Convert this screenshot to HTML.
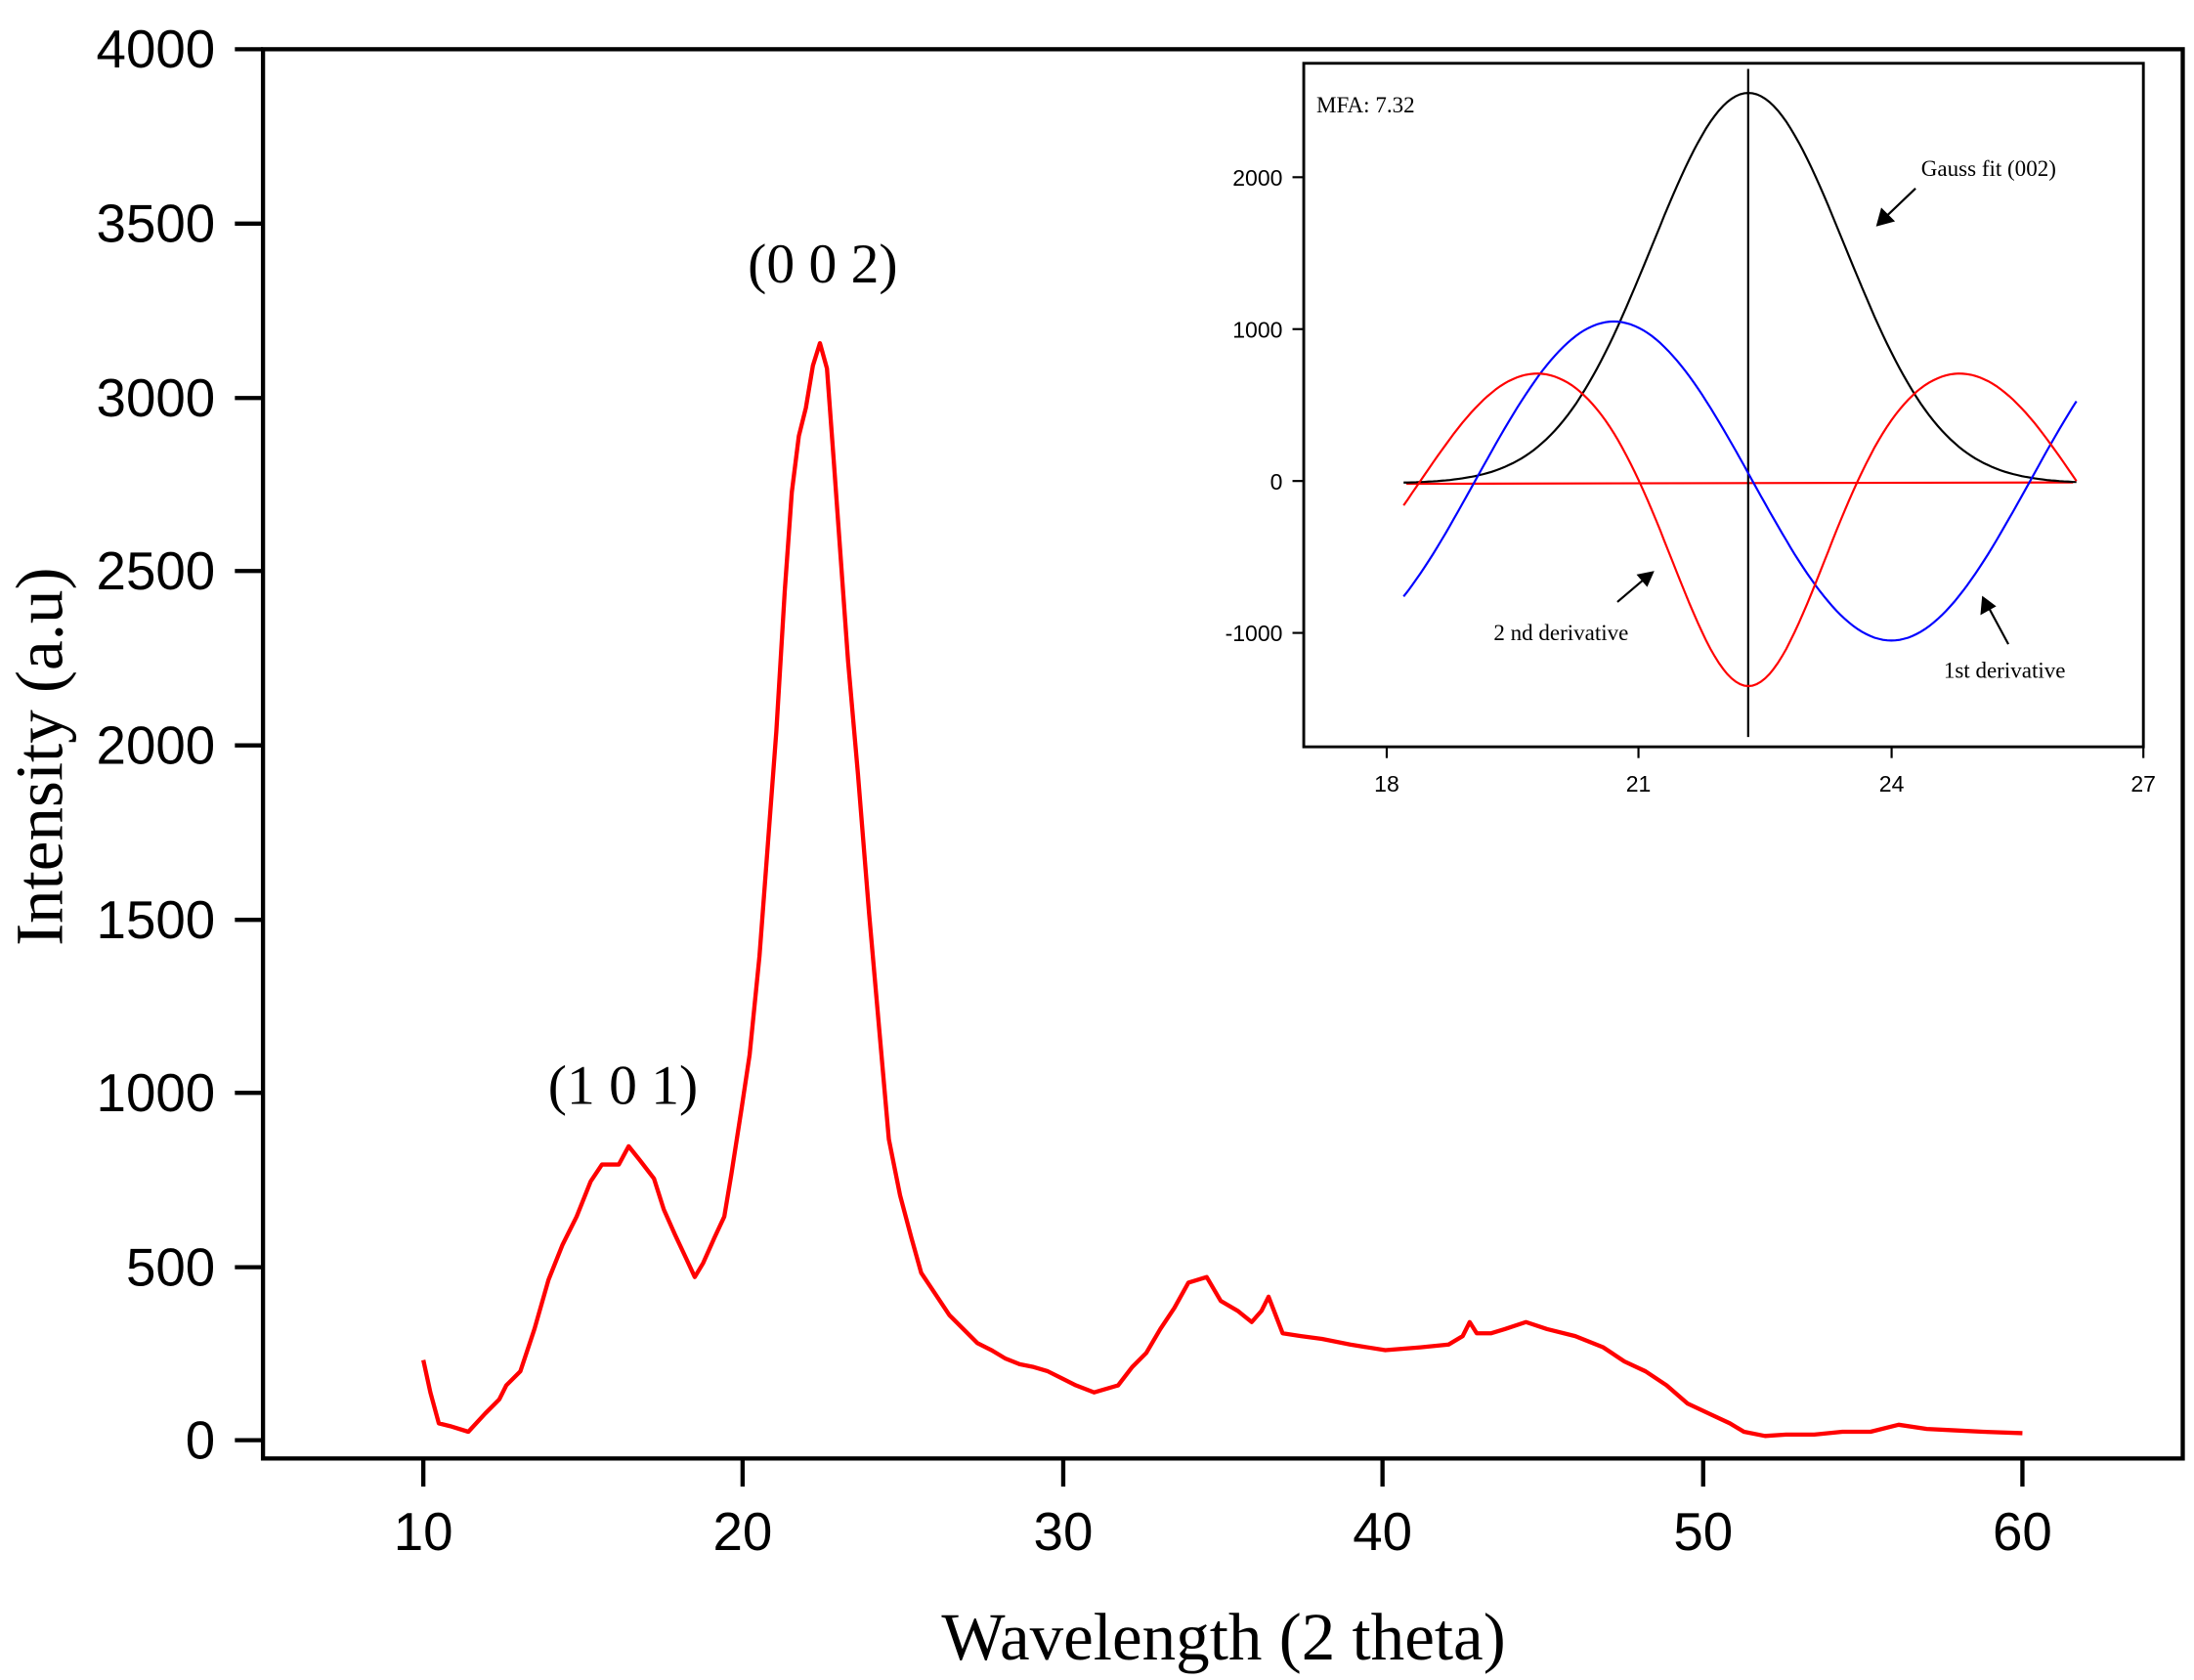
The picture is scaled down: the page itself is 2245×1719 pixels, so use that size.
<!DOCTYPE html>
<html><head><meta charset="utf-8"><style>html,body{margin:0;padding:0;background:#fff}svg{display:block}</style></head>
<body>
<svg id="s" width="2245" height="1719" viewBox="0 0 1560 1194.5" preserveAspectRatio="none" xmlns="http://www.w3.org/2000/svg">
<rect width="1560" height="1195" fill="#fff"/>
<rect x="187" y="35" width="1365" height="1002" fill="none" stroke="#000" stroke-width="3"/>
<g stroke="#000" stroke-width="3">
<line x1="167" y1="35" x2="187" y2="35"/><line x1="167" y1="159" x2="187" y2="159"/><line x1="167" y1="283" x2="187" y2="283"/><line x1="167" y1="406" x2="187" y2="406"/><line x1="167" y1="530" x2="187" y2="530"/><line x1="167" y1="654" x2="187" y2="654"/><line x1="167" y1="777" x2="187" y2="777"/><line x1="167" y1="901" x2="187" y2="901"/><line x1="167" y1="1024" x2="187" y2="1024"/>
<line x1="301" y1="1037" x2="301" y2="1057"/><line x1="528" y1="1037" x2="528" y2="1057"/><line x1="756" y1="1037" x2="756" y2="1057"/><line x1="983" y1="1037" x2="983" y2="1057"/><line x1="1211" y1="1037" x2="1211" y2="1057"/><line x1="1438" y1="1037" x2="1438" y2="1057"/>
</g>
<g font-family="Liberation Sans, sans-serif" font-size="38" text-anchor="end">
<text x="153" y="48">4000</text><text x="153" y="172">3500</text><text x="153" y="296">3000</text><text x="153" y="419">2500</text><text x="153" y="543">2000</text><text x="153" y="667">1500</text><text x="153" y="790">1000</text><text x="153" y="914">500</text><text x="153" y="1037">0</text>
</g>
<g font-family="Liberation Sans, sans-serif" font-size="38" text-anchor="middle">
<text x="301" y="1102">10</text><text x="528" y="1102">20</text><text x="756" y="1102">30</text><text x="983" y="1102">40</text><text x="1211" y="1102">50</text><text x="1438" y="1102">60</text>
</g>
<text x="870" y="1180" font-family="Liberation Serif, serif" font-size="48" text-anchor="middle">Wavelength (2 theta)</text>
<text transform="translate(44,538) rotate(-90)" font-family="Liberation Serif, serif" font-size="48" text-anchor="middle">Intensity (a.u)</text>
<text x="585" y="201" font-family="Liberation Serif, serif" font-size="40" text-anchor="middle">(0 0 2)</text>
<text x="443" y="785" font-family="Liberation Serif, serif" font-size="40" text-anchor="middle">(1 0 1)</text>
<polyline fill="none" stroke="#f00" stroke-width="3" stroke-linejoin="round" points="301,967 306,990 312,1012 320,1014 333,1018 345,1005 355,995 360,985 370,975 380,945 390,910 400,885 410,865 420,840 428,828 440,828 447,815 455,825 465,838 472,860 480,878 488,895 494,908 500,898 508,880 515,865 520,835 527,790 533,750 540,680 546,600 552,520 558,420 563,350 568,310 573,290 578,260 583,244 588,262 593,330 598,400 603,470 610,550 618,650 625,730 632,810 640,850 648,880 655,905 665,920 675,935 685,945 695,955 705,960 715,966 725,970 735,972 745,975 755,980 765,985 778,990 795,985 805,972 815,962 825,945 835,930 845,912 858,908 868,925 880,932 890,940 897,932 902,922 907,935 912,948 925,950 940,952 960,956 985,960 1010,958 1030,956 1040,950 1045,940 1050,948 1060,948 1070,945 1085,940 1100,945 1120,950 1140,958 1155,968 1170,975 1185,985 1200,998 1215,1005 1230,1012 1240,1018 1255,1021 1270,1020 1290,1020 1310,1018 1330,1018 1350,1013 1370,1016 1390,1017 1410,1018 1438,1019"/>
<!-- inset -->
<rect x="927" y="45" width="597" height="486" fill="#fff" stroke="#000" stroke-width="2"/>
<g stroke="#000" stroke-width="1.5">
<line x1="919" y1="126" x2="927" y2="126"/><line x1="919" y1="234" x2="927" y2="234"/><line x1="919" y1="342" x2="927" y2="342"/><line x1="919" y1="450" x2="927" y2="450"/>
<line x1="986" y1="531" x2="986" y2="539"/><line x1="1165" y1="531" x2="1165" y2="539"/><line x1="1345" y1="531" x2="1345" y2="539"/><line x1="1524" y1="531" x2="1524" y2="539"/>
</g>
<g font-family="Liberation Sans, sans-serif" font-size="16" text-anchor="end">
<text x="912" y="132">2000</text><text x="912" y="240">1000</text><text x="912" y="348">0</text><text x="912" y="456">-1000</text>
</g>
<g font-family="Liberation Sans, sans-serif" font-size="16" text-anchor="middle">
<text x="986" y="563">18</text><text x="1165" y="563">21</text><text x="1345" y="563">24</text><text x="1524" y="563">27</text>
</g>
<g font-family="Liberation Serif, serif" font-size="16">
<text x="936" y="80">MFA: 7.32</text>
<text x="1366" y="125">Gauss fit (002)</text>
<text x="1062" y="455">2 nd derivative</text>
<text x="1382" y="482">1st derivative</text>
</g>
<line x1="1000" y1="344" x2="1474" y2="343" stroke="#f00" stroke-width="1.5"/>
<line x1="1243" y1="49" x2="1243" y2="524" stroke="#000" stroke-width="1.5"/>
<polyline id="gk" fill="none" stroke="#000" stroke-width="1.5"/>
<polyline id="gb" fill="none" stroke="#00f" stroke-width="1.5"/>
<polyline id="gr" fill="none" stroke="#f00" stroke-width="1.5"/>
<g stroke="#000" stroke-width="1.5" fill="#000">
<line x1="1362" y1="134" x2="1340" y2="155"/><polygon points="1335,160 1338,149 1346,157"/>
<line x1="1150" y1="428" x2="1170" y2="411"/><polygon points="1175,407 1165,409 1171,416"/>
<line x1="1428" y1="458" x2="1414" y2="432"/><polygon points="1410,425 1409,436 1418,431"/>
</g>
<script>
(function(){
var c=22.3,s=1.15,k=[],b=[],r=[];
function X(v){return 986+(v-18)*59.8;}function Y(v){return 342-v*0.108;}
for(var t=18.2;t<=26.21;t+=0.05){var u=(t-c)/s,e=Math.exp(-u*u/2),d=t-c;
k.push(X(t).toFixed(1)+','+Y(2570*e-15).toFixed(1));
b.push(X(t).toFixed(1)+','+Y(-1050*Math.sin(2*Math.PI*(t-22.35)/6.6)).toFixed(1));
r.push(X(t).toFixed(1)+','+Y(-Math.cos(2*Math.PI*d/5.2)*(670+680*Math.exp(-(d/1.5)*(d/1.5)))).toFixed(1));}
document.getElementById('gk').setAttribute('points',k.join(' '));
document.getElementById('gb').setAttribute('points',b.join(' '));
document.getElementById('gr').setAttribute('points',r.join(' '));
})();
</script>
</svg>
</body></html>
